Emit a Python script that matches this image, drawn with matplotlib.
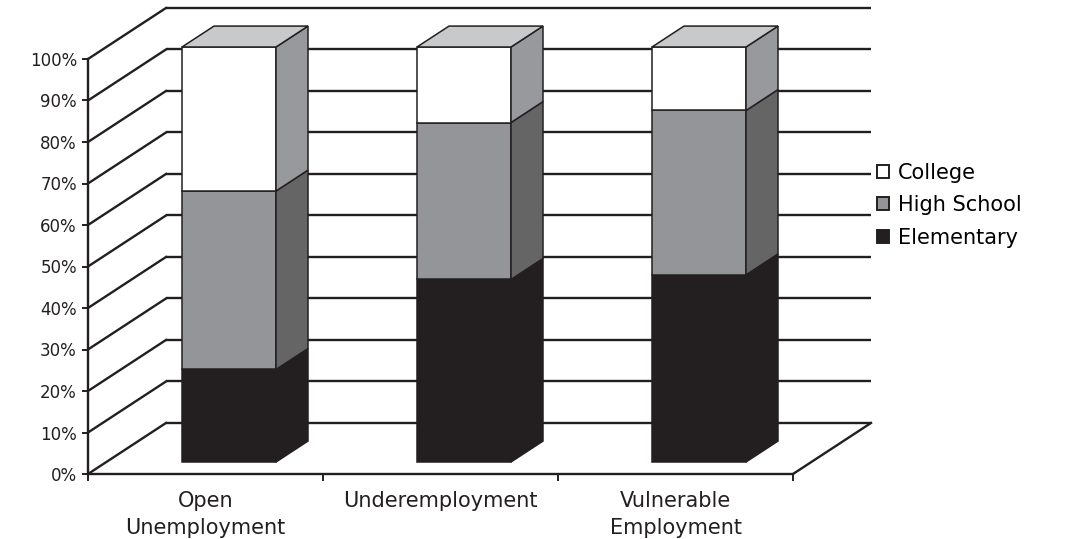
import matplotlib
matplotlib.use("Agg")
import matplotlib.pyplot as plt
from matplotlib.patches import Polygon, Patch

plt.rcParams["font.family"] = ["DejaVu Sans"]

# data (percent of each employment category)
categories = ["Open\nUnemployment", "Underemployment", "Vulnerable\nEmployment"]
series = ["Elementary", "High School", "College"]
elementary = [22.3, 44.0, 45.1]
high_school = [43.0, 37.8, 39.6]
college = [34.7, 18.2, 15.3]
yticks = [0, 10, 20, 30, 40, 50, 60, 70, 80, 90, 100]

front_cols = {"Elementary": "#231f20", "High School": "#949599", "College": "#ffffff"}
side_cols = {"Elementary": "#231f20", "High School": "#656565", "College": "#98999d"}
top_col = "#c8c9cb"
ink = "#231f20"

# oblique depth of the whole plot box (x in category units, y in percent)
DX, DY = 0.332, 12.3
f0, f1 = 0.235, 0.645   # bar front / back as fraction of depth
bar_left, bar_w = 0.322, 0.4

fig = plt.figure(figsize=(10.7, 5.39), dpi=100)
ax = fig.add_axes([0, 0, 1, 1])
ax.set_xlim(-88 / 235, (1070 - 88) / 235)
ax.set_ylim((474 - 539) / 4.15, 474 / 4.15)

# back wall gridlines + left wall diagonals
for t in yticks:
    ax.plot([DX, 3 + DX], [t + DY, t + DY], color=ink, lw=1.7, zorder=1, solid_capstyle="butt")
    ax.plot([0, DX], [t, t + DY], color=ink, lw=1.7, zorder=1)
# floor right edge
ax.plot([3, 3 + DX], [0, DY], color=ink, lw=1.7, zorder=1)


def quad(pts, fc, z):
    ax.add_patch(Polygon(pts, closed=True, facecolor=fc, edgecolor=ink, lw=1.1, zorder=z, joinstyle="miter"))


for i in range(len(categories)):
    x0 = i + bar_left
    x1 = x0 + bar_w
    base = 0
    vals = {"Elementary": elementary[i], "High School": high_school[i], "College": college[i]}
    for s in series:
        top = base + vals[s]
        quad([(x0 + f0 * DX, base + f0 * DY), (x1 + f0 * DX, base + f0 * DY),
              (x1 + f0 * DX, top + f0 * DY), (x0 + f0 * DX, top + f0 * DY)], front_cols[s], 3)
        quad([(x1 + f0 * DX, base + f0 * DY), (x1 + f1 * DX, base + f1 * DY),
              (x1 + f1 * DX, top + f1 * DY), (x1 + f0 * DX, top + f0 * DY)], side_cols[s], 3)
        base = top
    quad([(x0 + f0 * DX, base + f0 * DY), (x1 + f0 * DX, base + f0 * DY),
          (x1 + f1 * DX, base + f1 * DY), (x0 + f1 * DX, base + f1 * DY)], top_col, 3)

# axes
for sp in ["top", "right"]:
    ax.spines[sp].set_visible(False)
ax.spines["left"].set_position(("data", 0))
ax.spines["bottom"].set_position(("data", 0))
ax.spines["left"].set_bounds(0, 100)
ax.spines["bottom"].set_bounds(0, 3)
for sp in ["left", "bottom"]:
    ax.spines[sp].set_linewidth(1.7)
    ax.spines[sp].set_color(ink)
    ax.spines[sp].set_zorder(2)

ax.set_yticks(yticks)
ax.set_yticklabels([f"{t}%" for t in yticks], fontsize=12, color=ink)
ax.set_xticks([0, 1, 2, 3])
ax.set_xticklabels([])
ax.set_xticks([0.5, 1.5, 2.5], minor=True)
ax.set_xticklabels(categories, minor=True, fontsize=15, color=ink, linespacing=1.45)
ax.tick_params(axis="y", direction="out", length=4, width=1.4, color=ink, pad=4)
ax.tick_params(axis="x", which="major", direction="out", length=5, width=1.4, color=ink)
ax.tick_params(axis="x", which="minor", length=0, pad=12)

handles = [Patch(facecolor=front_cols[s], edgecolor=ink, lw=1.4) for s in ["College", "High School", "Elementary"]]
ax.legend(handles, ["College", "High School", "Elementary"], loc="center left",
          bbox_to_anchor=(877 / 1070, 1 - 205 / 539), frameon=False, fontsize=15,
          handlelength=0.6, handleheight=0.6, handletextpad=0.4, labelspacing=0.6,
          borderaxespad=0, borderpad=0)

fig.savefig("out.png", dpi=100)
